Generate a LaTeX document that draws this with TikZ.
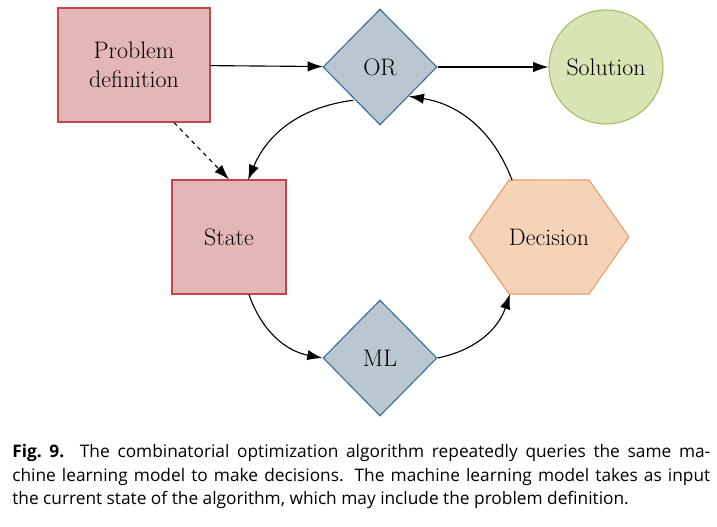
\documentclass[tikz,border=0pt]{standalone}
\usepackage{fontspec}
\newfontfamily\capfont{Open Sans}
\usetikzlibrary{shapes.geometric,shapes.symbols,arrows.meta}
\definecolor{probfill}{HTML}{E2B7B5}
\definecolor{probdraw}{HTML}{C2464A}
\definecolor{orfill}{HTML}{B9C7D1}
\definecolor{ordraw}{HTML}{3C6F97}
\definecolor{solfill}{HTML}{D9E4B5}
\definecolor{soldraw}{HTML}{A5BE6B}
\definecolor{decfill}{HTML}{F4D3B9}
\definecolor{decdraw}{HTML}{E9A06C}
\begin{document}
\begin{tikzpicture}[font=\fontsize{17}{21}\selectfont,
  box/.style={draw=probdraw,fill=probfill,thick,align=center,inner sep=0pt},
  algo/.style={diamond,draw=ordraw,fill=orfill,thick,inner sep=0pt,
    minimum width=2.85cm,minimum height=2.9cm},
  flow/.style={-{Latex[length=3.8mm,width=2.6mm]},thick}]
  \useasboundingbox (0,0) rectangle (17.925,13.15);

  \node[box,minimum width=3.8cm,minimum height=2.85cm] (prob) at (3.35,11.525) {Problem\\definition};
  \node[algo] (or) at (9.5,11.475) {OR};
  \node[circle,draw=soldraw,fill=solfill,thick,minimum size=2.85cm,inner sep=0pt] (sol) at (15.15,11.475) {Solution};
  \node[box,minimum width=2.85cm,minimum height=2.85cm] (state) at (5.725,7.225) {State};
  \node[signal,signal to=east and west,signal pointer angle=110,
    draw=decdraw,fill=decfill,thick,minimum width=3.6cm,minimum height=2.85cm,inner sep=0pt] (dec) at (13.725,7.225) {Decision};
  \node[algo] (ml) at (9.5,4.2) {ML};

  \draw[flow] (prob) -- (or);
  \draw[flow] (or) -- (sol);
  \draw[flow,dashed] (prob.south) ++(1,0) coordinate (p1) (p1) -- (state.north);
  \draw[flow] (or.south west) ++(0.05,-0.1) coordinate (o1) (o1) to[bend right=30] (6.2,8.65);
  \draw[flow] (state.south) ++(0.5,0) coordinate (s1) (s1) to[bend right=30] (ml.west);
  \draw[flow] (ml.east) to[bend right=30] (12.75,5.8);
  \draw[flow] (12.8,8.65) to[bend right=30] (or.south east);

  \node[anchor=north west,text width=17.45cm,align=justify,inner sep=0pt,
    font=\capfont\fontsize{12.3}{16.8}\selectfont] (cap) at (0.3,2.05)
    {\textbf{Fig.~9.} The combinatorial optimization algorithm repeatedly queries the same ma-\linebreak chine learning model to make decisions. The machine learning model takes as input\linebreak the current state of the algorithm, which may include the problem definition.};
\end{tikzpicture}
\end{document}
